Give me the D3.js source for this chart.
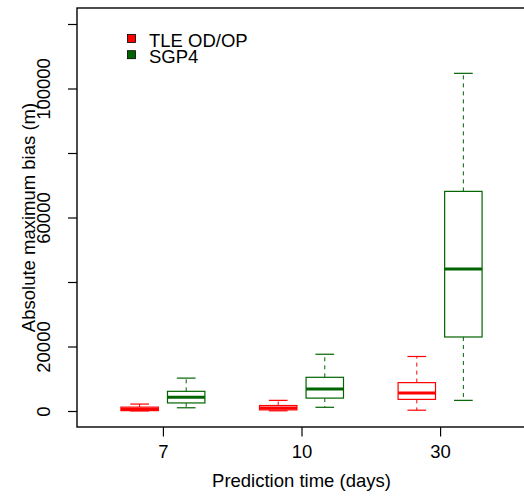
<!DOCTYPE html>
<html>
<head>
<meta charset="utf-8">
<script src="https://cdn.jsdelivr.net/npm/d3@7"></script>
<style>
  html, body { margin: 0; padding: 0; background: #fff; }
  svg { display: block; font-family: "Liberation Sans", Arial, sans-serif; }
</style>
</head>
<body>
<svg id="chart" width="524" height="498"></svg>
<script>
// ---- data ----
const categories = ["7", "10", "30"];
const seriesNames = ["TLE OD/OP", "SGP4"];
const seriesColors = ["#ff0000", "#006400"];

// TLE OD/OP box statistics per prediction time
const tleLow    = [30, 60, 250];
const tleQ1     = [120, 350, 3600];
const tleMedian = [550, 950, 5600];
const tleQ3     = [1200, 1700, 8800];
const tleHigh   = [2150, 3300, 16900];

// SGP4 box statistics per prediction time
const sgpLow    = [1000, 1150, 3300];
const sgpQ1     = [2500, 4000, 22950];
const sgpMedian = [4250, 6800, 44000];
const sgpQ3     = [6100, 10450, 68100];
const sgpHigh   = [10200, 17600, 104700];

const yTickValues = [0, 20000, 40000, 60000, 80000, 100000, 120000];
const yTickLabels = ["0", "20000", "", "60000", "", "100000", ""];

// ---- layout ----
const svg = d3.select("#chart");
const pLeft = 77, pRight = 526, pTop = 8, pBottom = 427;
const fontSize = 18.5;

const x = d3.scaleLinear().domain([0.38, 3.62]).range([pLeft, pRight]);
const y = d3.scaleLinear().domain([-4960, 124960]).range([pBottom, pTop]);

const offset = 0.168, boxW = 0.27;

const series = [
  { name: seriesNames[0], color: seriesColors[0], shift: -offset,
    low: tleLow, q1: tleQ1, med: tleMedian, q3: tleQ3, high: tleHigh },
  { name: seriesNames[1], color: seriesColors[1], shift: offset,
    low: sgpLow, q1: sgpQ1, med: sgpMedian, q3: sgpQ3, high: sgpHigh }
];

const boxes = [];
series.forEach(s => {
  categories.forEach((c, i) => {
    boxes.push({ pos: i + 1 + s.shift, color: s.color,
      low: s.low[i], q1: s.q1[i], med: s.med[i], q3: s.q3[i], high: s.high[i] });
  });
});

const g = svg.append("g");
const halfPx = (x(boxW) - x(0)) / 2;
const capPx = halfPx / 2;

const bg = g.selectAll("g.box").data(boxes).join("g").attr("class", "box");
// whiskers (dashed)
bg.append("line")
  .attr("x1", d => x(d.pos)).attr("x2", d => x(d.pos))
  .attr("y1", d => y(d.q3)).attr("y2", d => y(d.high))
  .attr("stroke", d => d.color).attr("stroke-width", 1).attr("stroke-dasharray", "4,4");
bg.append("line")
  .attr("x1", d => x(d.pos)).attr("x2", d => x(d.pos))
  .attr("y1", d => y(d.q1)).attr("y2", d => y(d.low))
  .attr("stroke", d => d.color).attr("stroke-width", 1).attr("stroke-dasharray", "4,4");
// caps
bg.append("line")
  .attr("x1", d => x(d.pos) - capPx).attr("x2", d => x(d.pos) + capPx)
  .attr("y1", d => y(d.high)).attr("y2", d => y(d.high))
  .attr("stroke", d => d.color).attr("stroke-width", 1.2);
bg.append("line")
  .attr("x1", d => x(d.pos) - capPx).attr("x2", d => x(d.pos) + capPx)
  .attr("y1", d => y(d.low)).attr("y2", d => y(d.low))
  .attr("stroke", d => d.color).attr("stroke-width", 1.2);
// box
bg.append("rect")
  .attr("x", d => x(d.pos) - halfPx).attr("width", 2 * halfPx)
  .attr("y", d => y(d.q3)).attr("height", d => Math.max(0.5, y(d.q1) - y(d.q3)))
  .attr("fill", "white").attr("stroke", d => d.color).attr("stroke-width", 1.2);
// median
bg.append("line")
  .attr("x1", d => x(d.pos) - halfPx).attr("x2", d => x(d.pos) + halfPx)
  .attr("y1", d => y(d.med)).attr("y2", d => y(d.med))
  .attr("stroke", d => d.color).attr("stroke-width", 3);

// ---- frame ----
svg.append("rect")
  .attr("x", pLeft).attr("y", pTop).attr("width", pRight - pLeft).attr("height", pBottom - pTop)
  .attr("fill", "none").attr("stroke", "#000").attr("stroke-width", 1.4);

// ---- y axis ----
const yAxis = svg.append("g").attr("transform", `translate(${pLeft},0)`)
  .call(d3.axisLeft(y).tickValues(yTickValues).tickSize(9)
    .tickFormat((d, i) => yTickLabels[i]));
yAxis.select(".domain").remove();
yAxis.selectAll(".tick line").attr("stroke", "#000").attr("stroke-width", 1.2);
yAxis.selectAll(".tick text")
  .attr("transform", "rotate(-90)")
  .attr("x", 0).attr("y", -27.5).attr("dy", 0)
  .attr("text-anchor", "middle")
  .attr("fill", "#000")
  .style("font-size", fontSize + "px")
  .style("font-family", "'Liberation Sans', Arial, sans-serif");

// ---- x axis ----
const xAxis = svg.append("g").attr("transform", `translate(0,${pBottom})`)
  .call(d3.axisBottom(x).tickValues([1, 2, 3]).tickSize(9.5)
    .tickFormat((d, i) => categories[i]));
xAxis.select(".domain").remove();
xAxis.selectAll(".tick line").attr("stroke", "#000").attr("stroke-width", 1.2);
xAxis.selectAll(".tick text")
  .attr("y", 30.7).attr("dy", 0)
  .attr("fill", "#000")
  .style("font-size", fontSize + "px")
  .style("font-family", "'Liberation Sans', Arial, sans-serif");

// ---- titles ----
svg.append("text")
  .attr("x", (pLeft + pRight) / 2).attr("y", 487)
  .attr("text-anchor", "middle").style("font-size", fontSize + "px")
  .text("Prediction time (days)");
svg.append("text")
  .attr("transform", `translate(34.5,${(pTop + pBottom) / 2}) rotate(-90)`)
  .attr("text-anchor", "middle").style("font-size", fontSize + "px")
  .text("Absolute maximum bias (m)");

// ---- legend ----
const legend = svg.append("g");
series.forEach((s, i) => {
  legend.append("rect")
    .attr("x", 127.5).attr("y", 34.5 + i * 16.2).attr("width", 8).attr("height", 8)
    .attr("fill", s.color).attr("stroke", "#000").attr("stroke-width", 0.8);
  legend.append("text")
    .attr("x", 149).attr("y", 46.5 + i * 16.2)
    .style("font-size", fontSize + "px")
    .text(s.name);
});
</script>
</body>
</html>
